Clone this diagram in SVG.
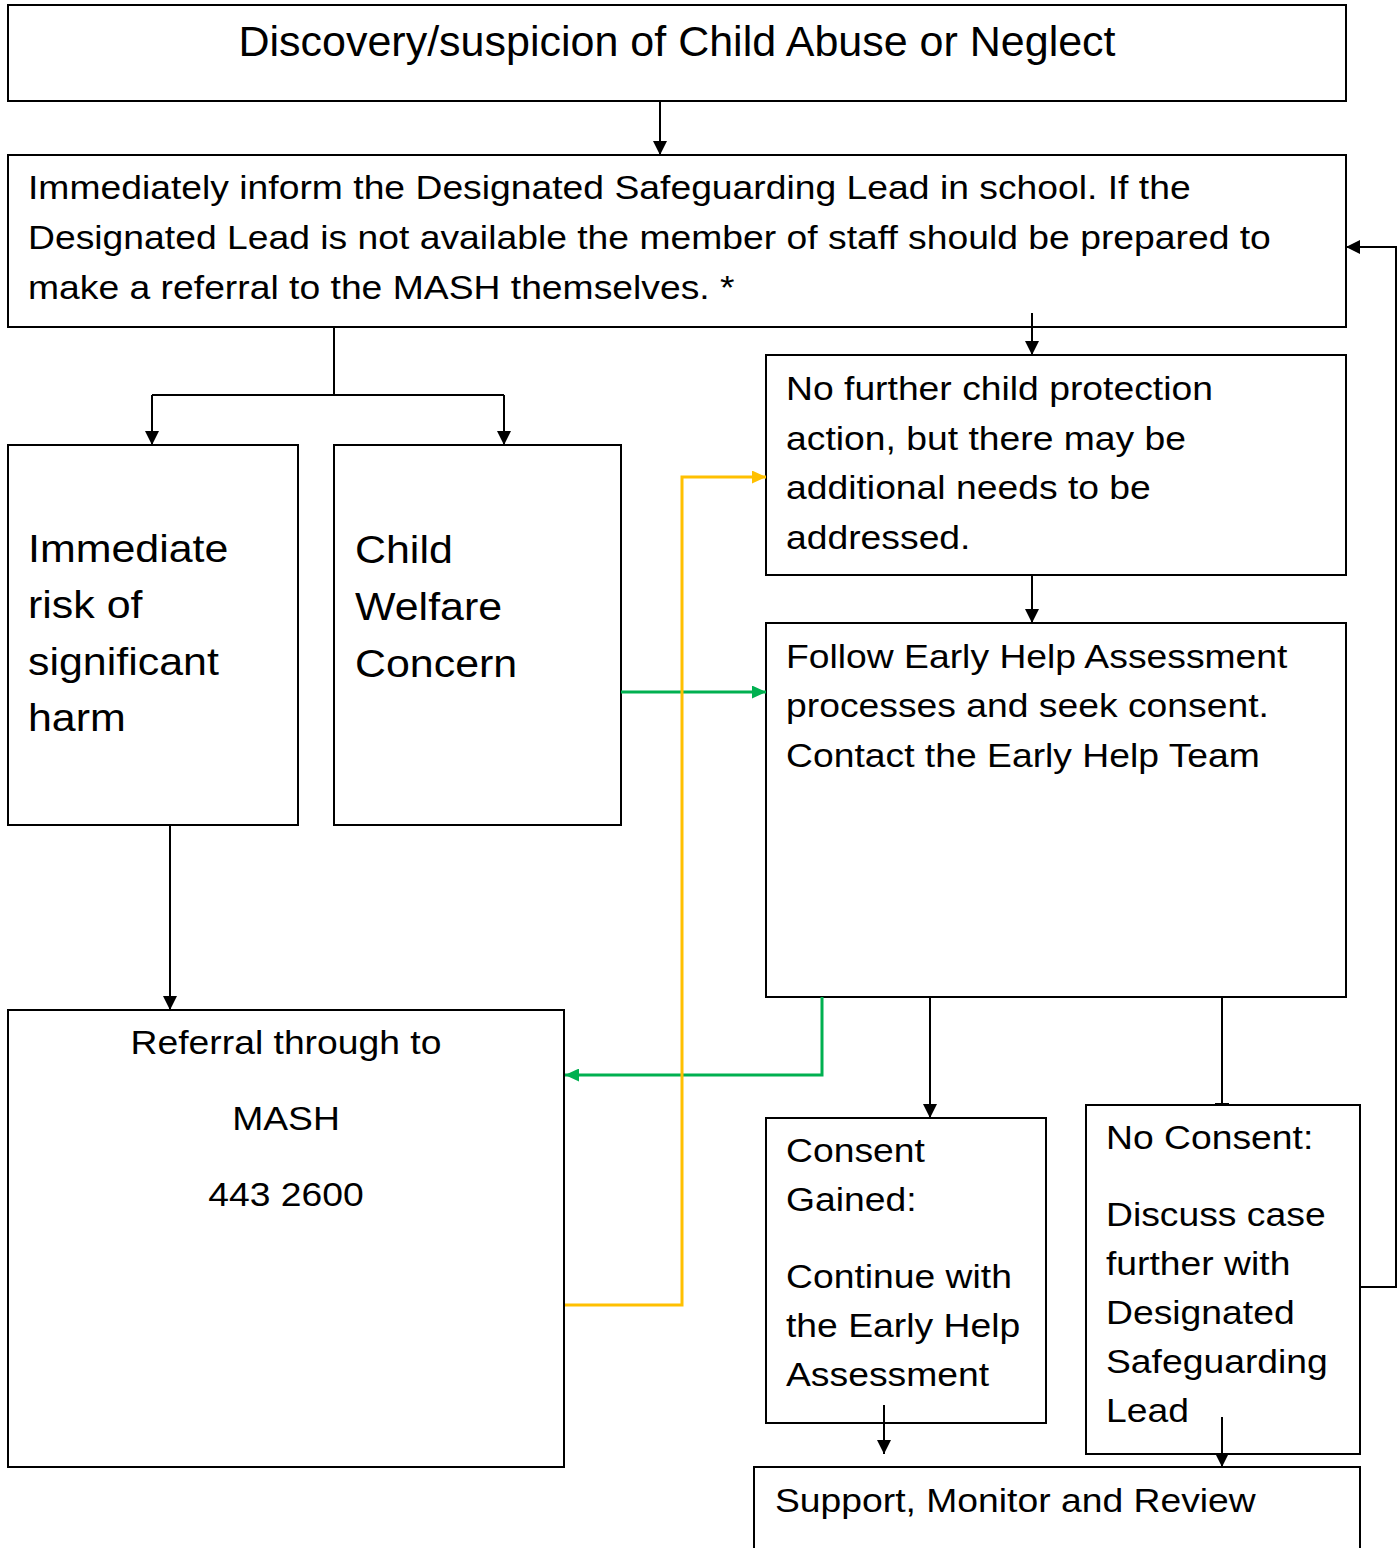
<svg xmlns="http://www.w3.org/2000/svg" width="1399" height="1548" viewBox="0 0 1399 1548">
<style>
.box{fill:#fff;stroke:#000;stroke-width:2}
text{font-family:"Liberation Sans",Arial,sans-serif;fill:#000}
.t{font-size:43px}
.m{font-size:33px}
.l{font-size:38px}
.k{stroke:#000;stroke-width:2;fill:none}
.g{stroke:#00b050;stroke-width:3;fill:none}
.y{stroke:#ffc000;stroke-width:3;fill:none}
</style>
<defs>
<marker id="ab" markerWidth="14" markerHeight="14" refX="14" refY="7" orient="auto" markerUnits="userSpaceOnUse" viewBox="0 0 14 14"><path d="M0,0 L14,7 L0,14 Z" fill="#000"/></marker>
<marker id="ag" markerWidth="14" markerHeight="13" refX="14" refY="6.5" orient="auto" markerUnits="userSpaceOnUse" viewBox="0 0 14 13"><path d="M0,0 L14,6.5 L0,13 Z" fill="#00b050"/></marker>
<marker id="ay" markerWidth="14" markerHeight="13" refX="14" refY="6.5" orient="auto" markerUnits="userSpaceOnUse" viewBox="0 0 14 13"><path d="M0,0 L14,6.5 L0,13 Z" fill="#ffc000"/></marker>
</defs>
<g id="n1"><rect class="box" x="8" y="5" width="1338" height="96"/><text class="t" x="677" y="56" text-anchor="middle">Discovery/suspicion of Child Abuse or Neglect</text></g>
<g id="n2"><rect class="box" x="8" y="155" width="1338" height="172"/><text class="m" transform="matrix(1.13 0 0 1 28 0)"><tspan x="0" y="199">Immediately inform the Designated Safeguarding Lead in school. If the</tspan><tspan x="0" y="249">Designated Lead is not available the member of staff should be prepared to</tspan><tspan x="0" y="299">make a referral to the MASH themselves. *</tspan></text></g>
<g id="n3"><rect class="box" x="8" y="445" width="290" height="380"/><text class="l" transform="matrix(1.13 0 0 1 28 0)"><tspan x="0" y="562">Immediate</tspan><tspan x="0" y="618">risk of</tspan><tspan x="0" y="675">significant</tspan><tspan x="0" y="731">harm</tspan></text></g>
<g id="n4"><rect class="box" x="334" y="445" width="287" height="380"/><text class="l" transform="matrix(1.13 0 0 1 355 0)"><tspan x="0" y="563">Child</tspan><tspan x="0" y="620">Welfare</tspan><tspan x="0" y="677">Concern</tspan></text></g>
<g id="n5"><rect class="box" x="766" y="355" width="580" height="220"/><text class="m" transform="matrix(1.13 0 0 1 786 0)"><tspan x="0" y="400">No further child protection</tspan><tspan x="0" y="450">action, but there may be</tspan><tspan x="0" y="499">additional needs to be</tspan><tspan x="0" y="549">addressed.</tspan></text></g>
<g id="n6"><rect class="box" x="766" y="623" width="580" height="374"/><text class="m" transform="matrix(1.13 0 0 1 786 0)"><tspan x="0" y="668">Follow Early Help Assessment</tspan><tspan x="0" y="717">processes and seek consent.</tspan><tspan x="0" y="767">Contact the Early Help Team</tspan></text></g>
<g id="n7"><rect class="box" x="8" y="1010" width="556" height="457"/><text class="m" text-anchor="middle" transform="matrix(1.13 0 0 1 286 0)"><tspan x="0" y="1054">Referral through to</tspan><tspan x="0" y="1130">MASH</tspan><tspan x="0" y="1206">443 2600</tspan></text></g>
<g id="n8"><rect class="box" x="766" y="1118" width="280" height="305"/><text class="m" transform="matrix(1.13 0 0 1 786 0)"><tspan x="0" y="1162">Consent</tspan><tspan x="0" y="1211">Gained:</tspan><tspan x="0" y="1288">Continue with</tspan><tspan x="0" y="1337">the Early Help</tspan><tspan x="0" y="1386">Assessment</tspan></text></g>
<g id="n9"><rect class="box" x="1086" y="1105" width="274" height="349"/><text class="m" transform="matrix(1.13 0 0 1 1106 0)"><tspan x="0" y="1149">No Consent:</tspan><tspan x="0" y="1226">Discuss case</tspan><tspan x="0" y="1275">further with</tspan><tspan x="0" y="1324">Designated</tspan><tspan x="0" y="1373">Safeguarding</tspan><tspan x="0" y="1422">Lead</tspan></text></g>
<g id="n10"><rect class="box" x="754" y="1467" width="606" height="90"/><text class="m" transform="matrix(1.13 0 0 1 775 0)" x="0" y="1512">Support, Monitor and Review</text></g>
<g id="connectors">
<path class="k" d="M660,101 V155" marker-end="url(#ab)"/>
<path class="k" d="M334,327 V395"/>
<path class="k" d="M152,395 H504"/>
<path class="k" d="M152,395 V445" marker-end="url(#ab)"/>
<path class="k" d="M504,395 V445" marker-end="url(#ab)"/>
<path class="k" d="M1032,313 V355" marker-end="url(#ab)"/>
<path class="k" d="M1032,575 V623" marker-end="url(#ab)"/>
<path class="k" d="M170,825 V1010" marker-end="url(#ab)"/>
<path class="k" d="M930,997 V1118" marker-end="url(#ab)"/>
<path class="k" d="M1222,997 V1105"/>
<path class="k" d="M1215,1104 H1229"/>
<path class="k" d="M1360,1287 H1396 V247 H1346" marker-end="url(#ab)"/>
<path class="k" d="M884,1405 V1454" marker-end="url(#ab)"/>
<path class="k" d="M1222,1417 V1467" marker-end="url(#ab)"/>
<path class="g" d="M621,692 H766" marker-end="url(#ag)"/>
<path class="g" d="M822,997 V1075 H565" marker-end="url(#ag)"/>
<path class="y" d="M565,1305 H682 V477 H766" marker-end="url(#ay)"/>
</g>
</svg>
